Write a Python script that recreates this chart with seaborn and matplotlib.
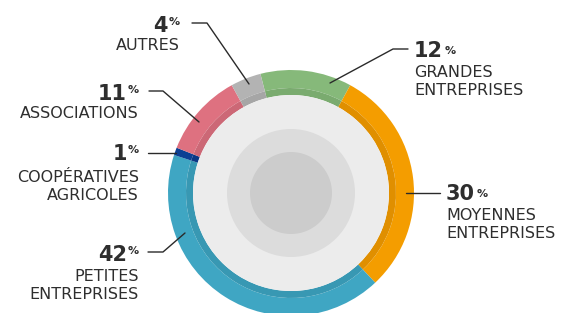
import matplotlib
matplotlib.use("Agg")
import matplotlib.pyplot as plt
import seaborn as sns
from matplotlib.patches import Circle

# data
categories = ["GRANDES\nENTREPRISES", "MOYENNES\nENTREPRISES", "PETITES\nENTREPRISES",
              "COOPÉRATIVES\nAGRICOLES", "ASSOCIATIONS", "AUTRES"]
values = [12, 30, 42, 1, 11, 4]
outer_colors = ["#86b97a", "#f49d00", "#3fa6c3", "#0c3f93", "#de7180", "#b3b3b3"]
inner_colors = ["#7aab6f", "#e08f00", "#3898b3", "#0a3785", "#cc6876", "#a6a6a6"]

sns.set_theme(style="white")
plt.rcParams["font.family"] = ["DejaVu Sans"]

W, H = 561, 313
fig = plt.figure(figsize=(W / 100, H / 100), dpi=100)
ax = fig.add_axes([0, 0, 1, 1])

def Y(y):
    return H - y

cx, cy = 291, Y(193)
start = 90 + 360 * values[-1] / sum(values)

# outer ring + darker inner band
ax.pie(values, colors=outer_colors, radius=123, center=(cx, cy), startangle=start,
       counterclock=False, wedgeprops=dict(width=18, linewidth=0), frame=True)
ax.pie(values, colors=inner_colors, radius=105, center=(cx, cy), startangle=start,
       counterclock=False, wedgeprops=dict(width=7, linewidth=0), frame=True)
ax.add_patch(Circle((cx, cy), 98, color="#ececec", lw=0))
ax.add_patch(Circle((cx, cy), 64, color="#dcdcdc", lw=0))
ax.add_patch(Circle((cx, cy), 41, color="#cccccc", lw=0))
ax.set_xlim(0, W)
ax.set_ylim(0, H)
ax.set_aspect("equal")
ax.axis("off")

txt = "#2e2e2e"
# label layout: (anchor x, side, number baseline, first line baseline, leader)
layout = [
    (414, "left", 57, 77, [(408, 49), (393, 49), (330, 83)]),
    (446, "left", 200, 220, [(440, 193), (406, 193)]),
    (139, "right", 261, 281, [(148, 252), (163, 252), (185, 233)]),
    (139, "right", 160, 182, [(148, 153), (176, 153)]),
    (139, "right", 100, 118, [(149, 91), (163, 91), (199, 122)]),
    (180, "right", 32, 50, [(192, 23), (207, 23), (249, 84)]),
]

for cat, val, (x, side, nb, lb, leader) in zip(categories, values, layout):
    num = str(val)
    if side == "right":
        ax.text(x, Y(nb - 7), "%", ha="right", va="baseline", fontsize=8,
                fontweight="bold", color=txt)
        ax.text(x - 12, Y(nb), num, ha="right", va="baseline", fontsize=15,
                fontweight="bold", color=txt)
    else:
        t = ax.text(x, Y(nb), num, ha="left", va="baseline", fontsize=15,
                    fontweight="bold", color=txt)
        ax.annotate("%", xy=(1, 0), xycoords=t, xytext=(1, 5), textcoords="offset points",
                    ha="left", va="baseline", fontsize=8, fontweight="bold", color=txt)
    for i, line in enumerate(cat.split("\n")):
        ax.text(x, Y(lb + 18 * i), line, ha=side, va="baseline", fontsize=11.5,
                color=txt)
    xs = [p[0] for p in leader]
    ys = [Y(p[1]) for p in leader]
    ax.plot(xs, ys, color="#2a2a2a", lw=1)

fig.savefig("out.png", dpi=100, facecolor="white")
